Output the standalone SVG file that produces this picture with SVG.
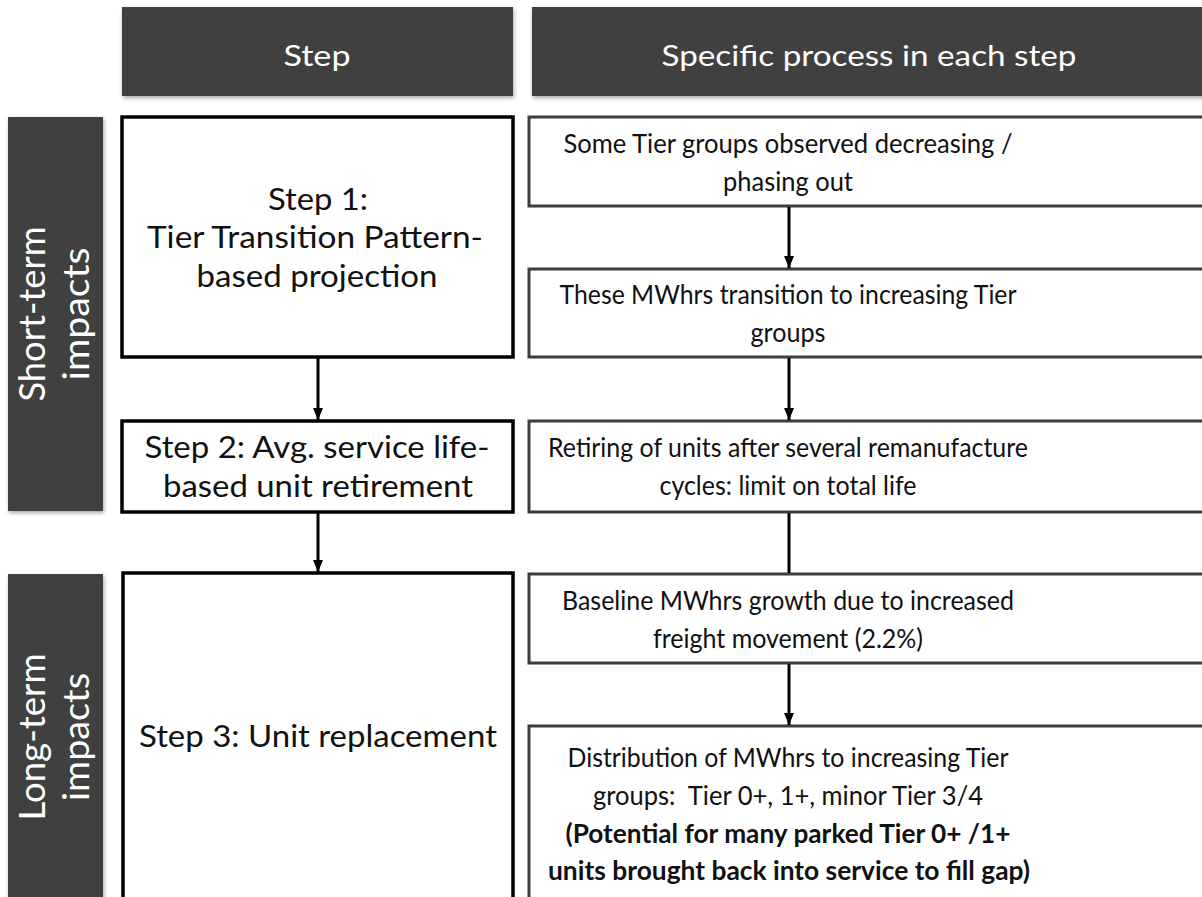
<svg xmlns="http://www.w3.org/2000/svg" width="1202" height="897" viewBox="0 0 1202 897">
<defs>
<style>
.hdr{fill:#404040}
.lab{fill:#404040}
.lbox{fill:#fff;stroke:#000;stroke-width:3.5}
.rbox{fill:#fff;stroke:#3c3c3c;stroke-width:3}
text{font-family:Lato,"Noto Sans",sans-serif;font-size:27.5px;fill:#111;text-anchor:middle}
.l{font-size:30px}
.w{fill:#fff;font-size:28px}
.vl{fill:#fff;font-size:36px}
.b{font-weight:bold}
.con{stroke:#000;stroke-width:3;fill:none}
</style>
<marker id="ah" viewBox="0 0 12 12" refX="12" refY="6" markerWidth="12" markerHeight="12" markerUnits="userSpaceOnUse" orient="auto">
<path d="M0,1 L12,6 L0,11 Z" fill="#000"/>
</marker>
<filter id="sh" x="-10%" y="-10%" width="130%" height="130%">
<feDropShadow dx="1" dy="2" stdDeviation="2" flood-color="#000" flood-opacity="0.35"/>
</filter>
</defs>
<rect width="1202" height="897" fill="#fff"/>

<g id="header-step">
<rect class="hdr" x="122" y="7" width="391" height="89" filter="url(#sh)"/>
<text class="w" x="317" y="66" textLength="67" lengthAdjust="spacingAndGlyphs">Step</text>
</g>
<g id="header-process">
<rect class="hdr" x="532" y="7" width="680" height="89" filter="url(#sh)"/>
<text class="w" x="869" y="66" textLength="415" lengthAdjust="spacingAndGlyphs">Specific process in each step</text>
</g>

<g id="label-short">
<rect class="lab" x="8" y="117" width="95" height="394" filter="url(#sh)"/>
<text class="vl" transform="translate(45,314) rotate(-90)" textLength="175" lengthAdjust="spacingAndGlyphs">Short-term</text>
<text class="vl" transform="translate(89,314) rotate(-90)" textLength="133" lengthAdjust="spacingAndGlyphs">impacts</text>
</g>
<g id="label-long">
<rect class="lab" x="8" y="574" width="95" height="340" filter="url(#sh)"/>
<text class="vl" transform="translate(45,737) rotate(-90)" textLength="167" lengthAdjust="spacingAndGlyphs">Long-term</text>
<text class="vl" transform="translate(89,737) rotate(-90)" textLength="128" lengthAdjust="spacingAndGlyphs">impacts</text>
</g>

<g id="step1">
<rect class="lbox" x="122" y="117" width="391" height="240"/>
<text class="l" x="318" y="210" textLength="100" lengthAdjust="spacingAndGlyphs">Step 1:</text>
<text class="l" x="315" y="248" textLength="336" lengthAdjust="spacingAndGlyphs">Tier Transition Pattern-</text>
<text class="l" x="317" y="287" textLength="241" lengthAdjust="spacingAndGlyphs">based projection</text>
</g>
<g id="step2">
<rect class="lbox" x="122" y="421" width="391" height="91"/>
<text class="l" x="317" y="458" textLength="345" lengthAdjust="spacingAndGlyphs">Step 2: Avg. service life-</text>
<text class="l" x="318" y="497" textLength="310" lengthAdjust="spacingAndGlyphs">based unit retirement</text>
</g>
<g id="step3">
<rect class="lbox" x="123" y="573" width="390" height="340"/>
<text class="l" x="318" y="747" textLength="358" lengthAdjust="spacingAndGlyphs">Step 3: Unit replacement</text>
</g>

<g id="procA">
<rect class="rbox" x="529" y="117" width="690" height="89"/>
<text x="788" y="153" textLength="449" lengthAdjust="spacingAndGlyphs">Some Tier groups observed decreasing /</text>
<text x="788" y="191" textLength="130" lengthAdjust="spacingAndGlyphs">phasing out</text>
</g>
<g id="procB">
<rect class="rbox" x="529" y="269" width="690" height="88"/>
<text x="788" y="304" textLength="457" lengthAdjust="spacingAndGlyphs">These MWhrs transition to increasing Tier</text>
<text x="788" y="342" textLength="75" lengthAdjust="spacingAndGlyphs">groups</text>
</g>
<g id="procC">
<rect class="rbox" x="529" y="421" width="690" height="91"/>
<text x="788" y="457" textLength="480" lengthAdjust="spacingAndGlyphs">Retiring of units after several remanufacture</text>
<text x="788" y="495" textLength="257" lengthAdjust="spacingAndGlyphs">cycles: limit on total life</text>
</g>
<g id="procD">
<rect class="rbox" x="529" y="574" width="690" height="89"/>
<text x="788" y="610" textLength="452" lengthAdjust="spacingAndGlyphs">Baseline MWhrs growth due to increased</text>
<text x="788" y="648" textLength="270" lengthAdjust="spacingAndGlyphs">freight movement (2.2%)</text>
</g>
<g id="procE">
<rect class="rbox" x="529" y="726" width="690" height="190"/>
<text x="788" y="767" textLength="441" lengthAdjust="spacingAndGlyphs">Distribution of MWhrs to increasing Tier</text>
<text x="788" y="805" textLength="390" lengthAdjust="spacingAndGlyphs" xml:space="preserve">groups:  Tier 0+, 1+, minor Tier 3/4</text>
<text class="b" x="788" y="843" textLength="445" lengthAdjust="spacingAndGlyphs">(Potential for many parked Tier 0+ /1+</text>
<text class="b" x="789" y="880" textLength="482" lengthAdjust="spacingAndGlyphs">units brought back into service to fill gap)</text>
</g>

<g id="connectors">
<line class="con" x1="318" y1="358" x2="318" y2="420" marker-end="url(#ah)"/>
<line class="con" x1="318" y1="513" x2="318" y2="572" marker-end="url(#ah)"/>
<line class="con" x1="789" y1="207" x2="789" y2="268" marker-end="url(#ah)"/>
<line class="con" x1="789" y1="358" x2="789" y2="420" marker-end="url(#ah)"/>
<line class="con" x1="789" y1="513" x2="789" y2="573"/>
<line class="con" x1="789" y1="664" x2="789" y2="725" marker-end="url(#ah)"/>
</g>
</svg>
